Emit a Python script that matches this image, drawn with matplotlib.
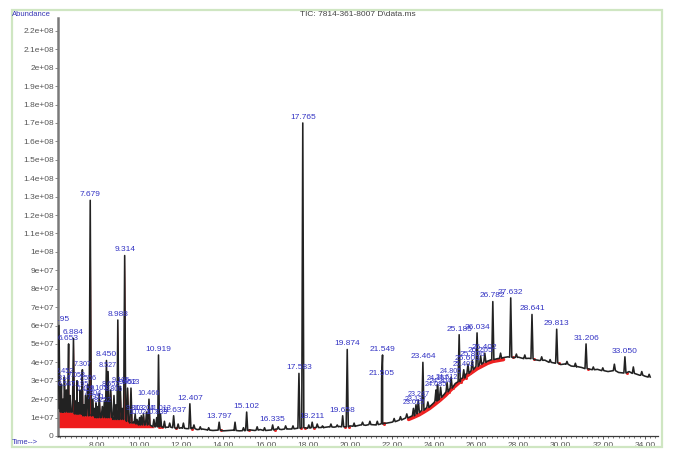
import numpy as np
import matplotlib
matplotlib.use("Agg")
import matplotlib.pyplot as plt
from matplotlib.patches import Rectangle
from matplotlib import transforms

plt.rcParams["font.family"] = ["Liberation Sans", "DejaVu Sans"]

# ---- data (abundance in units of 1e7 counts, time in minutes) ----
baseline_start, baseline_step = 6.25, 0.25
baseline_vals = [
    1.6, 1.2, 1.4, 1.1, 1.3, 1.0, 1.2, 0.9, 1.1, 0.9, 1.0, 0.8, 0.9, 0.7, 0.75,   # 6.25 - 9.75
    0.6, 0.65, 0.55, 0.5, 0.5, 0.45, 0.5, 0.4, 0.45, 0.4, 0.42, 0.35, 0.38, 0.33,  # 10.0 - 13.25
    0.3, 0.32, 0.28, 0.3, 0.32, 0.28, 0.3, 0.33, 0.3, 0.35, 0.3, 0.33, 0.38, 0.35,  # 13.5 - 16.75
    0.4, 0.38, 0.42, 0.45, 0.42, 0.45, 0.48, 0.45, 0.5, 0.48, 0.52, 0.5,            # 17.0 - 19.75
    0.55, 0.52, 0.6, 0.58, 0.62, 0.6, 0.68, 0.7, 0.75, 0.82, 0.9, 1.0,              # 20.0 - 22.75
    1.12, 1.25, 1.42, 1.6, 1.82, 2.05, 2.3, 2.6, 2.85, 3.1, 3.35, 3.55,             # 23.0 - 25.75
    3.75, 3.9, 4.05, 4.15, 4.2, 4.25, 4.3, 4.25, 4.28, 4.2, 4.22, 4.15,             # 26.0 - 28.75
    4.1, 4.12, 4.0, 3.95, 3.88, 3.92, 3.8, 3.75, 3.72, 3.65, 3.6, 3.62,             # 29.0 - 31.75
    3.55, 3.5, 3.58, 3.45, 3.42, 3.5, 3.38, 3.3, 3.25, 3.2,                         # 32.0 - 34.25
]

# integrated, labelled peaks: retention time, apex, foot
peak_rt = [6.195, 6.314, 6.452, 6.547, 6.653, 6.884, 7.053, 7.195, 7.307, 7.452,
           7.556, 7.679, 7.804, 7.951, 8.105, 8.252, 8.450, 8.527, 8.652, 8.806,
           8.988, 9.105, 9.314, 9.452, 9.613, 9.813, 10.021, 10.204, 10.466, 10.833,
           10.919, 11.013, 11.637, 12.407, 13.797, 15.102, 16.335, 17.583, 17.765, 18.211,
           19.658, 19.874, 21.505, 21.549, 23.015, 23.137, 23.247, 23.464, 24.085, 24.157,
           24.304, 24.612, 24.805, 25.185, 25.402, 25.603, 25.806, 26.034, 26.205, 26.402,
           26.782, 27.632, 28.641, 29.813, 31.206, 33.050]
peak_apex = [6.0, 2.8, 3.2, 2.5, 5.0, 5.3, 3.0, 2.5, 3.6, 2.2,
             2.8, 12.8, 2.0, 1.8, 2.3, 1.6, 4.1, 3.5, 2.5, 2.2,
             6.3, 2.7, 9.8, 2.6, 2.6, 1.2, 1.0, 1.2, 2.0, 1.0,
             4.4, 1.2, 1.1, 1.75, 0.75, 1.3, 0.6, 3.4, 17.0, 0.75,
             1.1, 4.7, 3.1, 4.4, 1.5, 1.7, 1.95, 4.0, 2.5, 2.8,
             2.65, 2.9, 3.2, 5.5, 3.6, 3.9, 4.1, 5.6, 4.35, 4.5,
             7.3, 7.5, 6.6, 5.8, 5.0, 4.3]
peak_foot = [1.5, 1.3, 1.3, 1.3, 1.3, 1.3, 1.2, 1.2, 1.2, 1.1,
             1.1, 1.1, 1.1, 1.0, 1.0, 1.0, 1.0, 1.0, 1.0, 0.9,
             0.9, 0.9, 0.9, 0.8, 0.7, 0.7, 0.6, 0.6, 0.6, 0.5,
             0.5, 0.5, 0.45, 0.4, 0.32, 0.3, 0.33, 0.42, 0.45, 0.45,
             0.5, 0.5, 0.65, 0.68, 1.1, 1.2, 1.27, 1.4, 1.9, 1.95,
             2.1, 2.4, 2.6, 2.95, 3.15, 3.4, 3.6, 3.78, 3.9, 4.0,
             4.15, 4.28, 4.2, 3.97, 3.66, 3.42]

# small unlabelled signals on the trace: time, apex, foot
minor_rt = [6.38, 6.72, 6.98, 7.12, 7.38, 7.88, 8.02, 8.35, 8.9, 9.2,
            9.9, 10.1, 10.35, 10.7, 11.2, 11.45, 11.85, 12.1, 12.6, 12.9,
            13.3, 14.55, 14.95, 15.6, 15.95, 16.6, 16.95, 17.3, 18.05, 18.45,
            18.7, 19.1, 19.4, 20.2, 20.6, 20.95, 21.3, 22.1, 22.4, 22.7,
            23.7, 27.15, 27.9, 28.3, 29.1, 29.5, 30.3, 30.7, 31.55, 32.0,
            32.55, 33.45, 33.85, 34.2]
minor_apex = [2.0, 2.2, 1.9, 1.8, 1.7, 1.5, 1.6, 1.9, 1.7, 1.5,
              0.9, 1.1, 1.3, 0.9, 0.8, 0.7, 0.65, 0.7, 0.6, 0.5,
              0.45, 0.75, 0.45, 0.5, 0.45, 0.5, 0.55, 0.55, 0.6, 0.65,
              0.55, 0.65, 0.6, 0.7, 0.75, 0.8, 0.8, 0.95, 1.05, 1.2,
              1.85, 4.5, 4.45, 4.4, 4.3, 4.15, 4.05, 3.95, 3.75, 3.7,
              3.9, 3.75, 3.5, 3.35]
minor_foot = [1.3, 1.3, 1.2, 1.2, 1.1, 1.1, 1.0, 1.0, 0.9, 0.9,
              0.65, 0.6, 0.6, 0.5, 0.47, 0.48, 0.42, 0.42, 0.4, 0.36,
              0.32, 0.3, 0.29, 0.32, 0.3, 0.37, 0.38, 0.39, 0.43, 0.46,
              0.46, 0.49, 0.5, 0.53, 0.6, 0.62, 0.62, 0.78, 0.87, 0.98,
              1.55, 4.22, 4.27, 4.21, 4.11, 4.0, 3.9, 3.78, 3.6, 3.55,
              3.55, 3.4, 3.3, 3.2]

x_ticks = [8, 10, 12, 14, 16, 18, 20, 22, 24, 26, 28, 30, 32, 34]
y_ticks = [i * 1e7 for i in range(23)]
title_text = "TIC: 7814-361-8007 D\\data.ms"

SCALE = 1e7
HALF_WIDTH = 0.05

# ---- assemble the trace ----
all_rt = peak_rt + minor_rt
all_apex = peak_apex + minor_apex
all_foot = peak_foot + minor_foot

pts = []
base_t = baseline_start + baseline_step * np.arange(len(baseline_vals))
base_v = np.array(baseline_vals) * SCALE
for t, v in zip(base_t, baseline_vals):
    if min(abs(t - p) for p in all_rt) > HALF_WIDTH:
        pts.append((t, v))
for t, a, f in zip(all_rt, all_apex, all_foot):
    pts.append((t - HALF_WIDTH, f))
    pts.append((t, a))
    pts.append((t + HALF_WIDTH, f))
pts.sort(key=lambda p: p[0])
tt = np.array([p[0] for p in pts])
yy = np.array([p[1] for p in pts]) * SCALE

# ---- figure ----
W, H = 674, 454
fig = plt.figure(figsize=(W / 100, H / 100), dpi=100)
ax = fig.add_axes([58 / W, 1 - 436 / H, 600 / W, 418 / H])

# shaded integration areas in the early part of the run
early = tt <= 10.7
ax.fill_between(tt[early], yy[early], 0.45 * SCALE, color="#ee1c1c", lw=0, zorder=2)

# integration baseline along the hump, just under the trace
hump = (base_t >= 22.6) & (base_t <= 27.4)
shift = transforms.offset_copy(ax.transData, fig=fig, x=0.8, y=-1.8, units="dots")
ax.plot(base_t[hump], base_v[hump], color="#ee2020", lw=2.6, transform=shift,
        zorder=2, solid_capstyle="round")

ax.plot(tt, yy, color="#222222", lw=1.15, zorder=3)

# integration start markers at labelled peaks beyond the early cluster
late = [i for i, t in enumerate(peak_rt) if t > 10.7]
ax.plot([peak_rt[i] + 0.09 for i in late], [peak_foot[i] * SCALE for i in late],
        "o", color="#ee2a2a", ms=2.2, mew=0, zorder=2.5)

# retention-time labels; the crowded small ones a touch smaller
for t, a in zip(peak_rt, peak_apex):
    small = a < 3.8 and (t < 11.1 or 22.9 < t < 26.5)
    ax.annotate(f"{t:.3f}", (t, a * SCALE), xytext=(0, 1.5), textcoords="offset points",
                ha="center", va="bottom", fontsize=5.2 if small else 6,
                color="#3434c4", zorder=4, annotation_clip=False, clip_on=True)

ax.set_xlim(6.15, 34.62)
ax.set_ylim(0, 2.27e8)
ax.set_xticks(x_ticks)
ax.set_xticklabels([f"{v:.2f}" for v in x_ticks])
ax.set_xticks(np.arange(6.25, 34.6, 0.25), minor=True)
ax.set_yticks(y_ticks)
ax.set_yticklabels(["%g" % v for v in y_ticks])

for side in ("top", "right"):
    ax.spines[side].set_visible(False)
ax.spines["left"].set_color("#7a7a7a")
ax.spines["left"].set_linewidth(1.8)
ax.spines["bottom"].set_color("#3a3a3a")
ax.spines["bottom"].set_linewidth(0.9)
ax.tick_params(axis="y", length=2, width=0.6, color="#777777", labelsize=6,
               labelcolor="#555555", pad=1)
ax.tick_params(axis="x", length=2.5, width=0.6, color="#444444", labelsize=6,
               labelcolor="#555555", pad=2)
ax.tick_params(axis="x", which="minor", length=1.5, width=0.5, color="#444444")
ax.patch.set_alpha(0)

# header / footer texts and the panel frame
fig.text(12 / W, 1 - 14 / H, "Abundance", fontsize=5.5, color="#3434b4", va="center")
fig.text(12 / W, 1 - 442 / H, "Time-->", fontsize=5.5, color="#3434b4", va="center")
fig.text(358 / W, 1 - 14 / H, title_text, fontsize=6, color="#444444",
         ha="center", va="center")
fig.patches.append(Rectangle((12 / W, 1 - 447 / H), 650 / W, 437 / H,
                             transform=fig.transFigure, fill=False,
                             edgecolor="#cfe6c2", lw=1.6))

fig.savefig("out.png", dpi=100)
